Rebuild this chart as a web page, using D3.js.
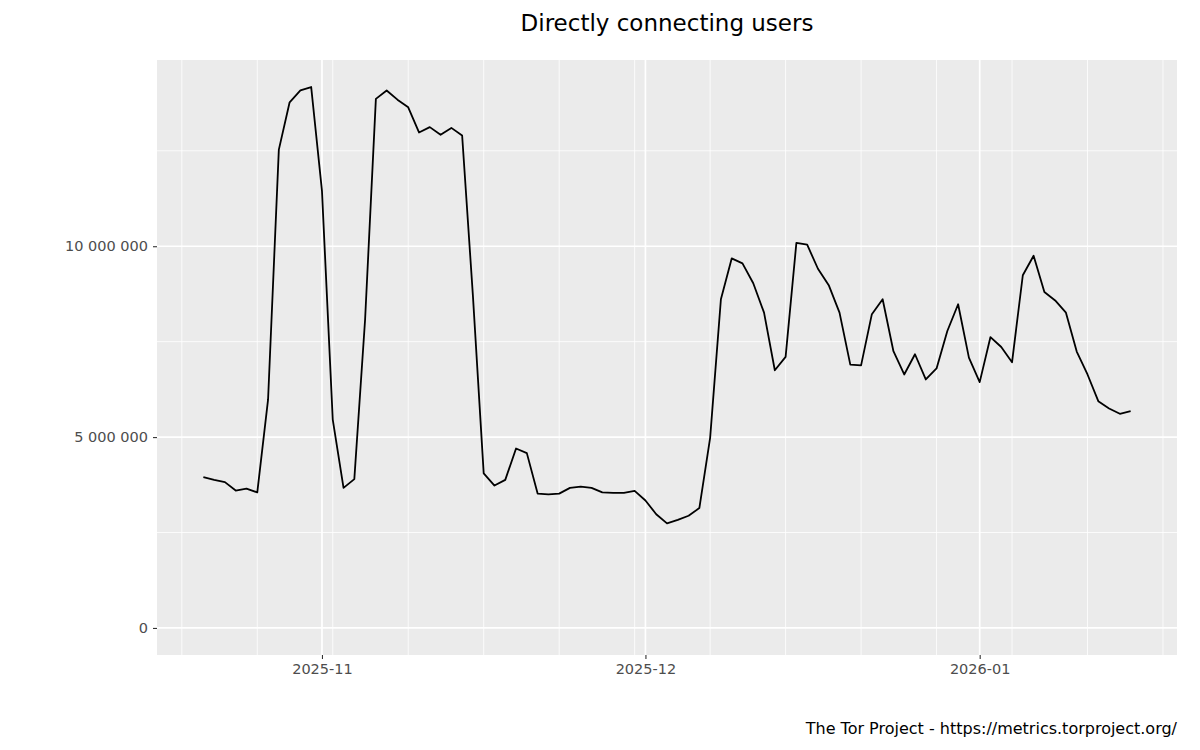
<!DOCTYPE html>
<html>
<head>
<meta charset="utf-8">
<script src="https://cdn.jsdelivr.net/npm/d3@7"></script>
<style>
  body { margin: 0; background: #fff; }
  text { font-family: "DejaVu Sans", sans-serif; }
</style>
</head>
<body>
<svg id="chart" width="1200" height="750"></svg>
<script>
// daily values, first day 2025-10-21 (millions of users)
const start_date = "2025-10-21";
const users_m = [
  3.95, 3.88, 3.82, 3.60, 3.65, 3.55, 5.98, 12.53, 13.77, 14.08,
  14.17, 11.45, 5.46, 3.67, 3.90, 8.08, 13.86, 14.08, 13.84, 13.64,
  12.98, 13.12, 12.92, 13.10, 12.90, 8.70, 4.05, 3.73, 3.88, 4.70,
  4.58, 3.52, 3.50, 3.52, 3.67, 3.70, 3.67, 3.55, 3.54, 3.54,
  3.59, 3.34, 2.98, 2.74, 2.83, 2.94, 3.14, 4.98, 8.61, 9.68,
  9.55, 9.03, 8.26, 6.75, 7.10, 10.09, 10.04, 9.41, 8.98, 8.26,
  6.90, 6.88, 8.22, 8.61, 7.25, 6.64, 7.17, 6.51, 6.80, 7.78,
  8.48, 7.08, 6.44, 7.62, 7.36, 6.96, 9.24, 9.75, 8.80, 8.58,
  8.26, 7.24, 6.64, 5.94, 5.75, 5.61, 5.68
];
const y_ticks = [0, 5000000, 10000000];
const y_minor = [2500000, 7500000, 12500000];
const x_ticks = ["2025-11-01", "2025-12-01", "2026-01-01"];

const t0 = new Date(start_date + "T00:00:00Z");
const day = 864e5;
const data = users_m.map((v, i) => ({ date: new Date(+t0 + i * day), value: v * 1e6 }));

let margin = { top: 60, right: 23, bottom: 95, left: 157 };
let W = 1200, H = 750;
let pw = W - margin.left - margin.right;
let ph = H - margin.top - margin.bottom;

let svg = d3.select("#chart");
let g = svg.append("g").attr("transform", `translate(${margin.left},${margin.top})`);

// ggplot-like 5% expansion
let xe = d3.extent(data, d => d.date);
let xpad = (xe[1] - xe[0]) * 0.05;
let x = d3.scaleUtc().domain([new Date(+xe[0] - xpad), new Date(+xe[1] + xpad)]).range([0, pw]);
let ymax = d3.max(data, d => d.value);
let y = d3.scaleLinear().domain([-ymax * 0.05, ymax * 1.05]).range([ph, 0]);

g.append("rect").attr("width", pw).attr("height", ph).attr("fill", "#ebebeb");

// minor grid: weekly (Sundays) and y midpoints
let weeks = d3.utcSunday.range(x.domain()[0], x.domain()[1]);
g.selectAll(".xminor").data(weeks).enter().append("line")
  .attr("x1", d => x(d)).attr("x2", d => x(d)).attr("y1", 0).attr("y2", ph)
  .attr("stroke", "#fff").attr("stroke-width", 0.8);
g.selectAll(".yminor").data(y_minor).enter().append("line")
  .attr("x1", 0).attr("x2", pw).attr("y1", d => y(d)).attr("y2", d => y(d))
  .attr("stroke", "#fff").attr("stroke-width", 0.8);

// major grid
let xt = x_ticks.map(s => new Date(s + "T00:00:00Z"));
g.selectAll(".xmajor").data(xt).enter().append("line")
  .attr("x1", d => x(d)).attr("x2", d => x(d)).attr("y1", 0).attr("y2", ph)
  .attr("stroke", "#fff").attr("stroke-width", 1.7);
g.selectAll(".ymajor").data(y_ticks).enter().append("line")
  .attr("x1", 0).attr("x2", pw).attr("y1", d => y(d)).attr("y2", d => y(d))
  .attr("stroke", "#fff").attr("stroke-width", 1.7);

// line
let line = d3.line().x(d => x(d.date)).y(d => y(d.value));
g.append("path").datum(data).attr("d", line)
  .attr("fill", "none").attr("stroke", "#000").attr("stroke-width", 1.8)
  .attr("stroke-linejoin", "round");

// axes
let fmt = v => d3.format(",")(v).replace(/,/g, " ");
let ya = g.append("g").call(d3.axisLeft(y).tickValues(y_ticks).tickFormat(fmt).tickSize(4).tickPadding(5));
let xa = g.append("g").attr("transform", `translate(0,${ph})`)
  .call(d3.axisBottom(x).tickValues(xt).tickFormat(d3.utcFormat("%Y-%m")).tickSize(4).tickPadding(5));
[xa, ya].forEach(a => {
  a.select(".domain").remove();
  a.selectAll(".tick line").attr("stroke", "#333").attr("stroke-width", 1.1);
  a.selectAll(".tick text").attr("fill", "#4d4d4d").style("font-size", "14.5px")
    .style("font-family", "DejaVu Sans, sans-serif");
});

svg.append("text").attr("x", margin.left + pw / 2).attr("y", 31)
  .attr("text-anchor", "middle").style("font-size", "23px").attr("fill", "#000")
  .text("Directly connecting users");

svg.append("text").attr("x", W - margin.right).attr("y", 734)
  .attr("text-anchor", "end").style("font-size", "16px").attr("fill", "#000")
  .text("The Tor Project - https://metrics.torproject.org/");
</script>
</body>
</html>
